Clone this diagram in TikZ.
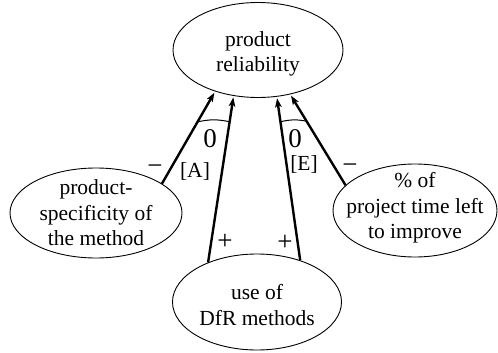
\documentclass[tikz,border=0pt]{standalone}
\usepackage{fontspec}
\setmainfont{Liberation Serif}
\usetikzlibrary{arrows.meta,shapes.geometric}
\begin{document}
\begin{tikzpicture}[x=1pt,y=-1pt,
  ell/.style={draw, ellipse, line width=0.9pt, inner sep=0pt},
  txt/.style={align=center, inner sep=0pt, font=\fontsize{21.5}{25.5}\selectfont},
  arr/.style={line width=2.4pt, -{Stealth[length=9pt,width=6.5pt,inset=2pt]}, shorten >=1.5pt},
  lab/.style={inner sep=0pt, font=\fontsize{21.5}{25.5}\selectfont},
  sym/.style={inner sep=0pt, font=\fontsize{27}{30}\selectfont},
  anglearc/.style={line width=1pt}]
\useasboundingbox (0,0) rectangle (498,353);
% ellipses
\node[ell, minimum width=170pt, minimum height=95pt] (top) at (258,50) {};
\node[ell, minimum width=169pt, minimum height=96pt] (bot) at (257,302) {};
\node[ell, minimum width=172pt, minimum height=90pt] (left) at (96,213) {};
\node[ell, minimum width=164pt, minimum height=93pt] (right) at (415,210.5) {};
% texts
\node[txt] (toptxt) at (258,54) {product\\reliability};
\node[txt] (bottxt) at (257,305) {use of\\DfR methods};
\node[txt] (lefttxt) at (96,213) {product-\\specificity of\\the method};
\node[txt] (righttxt) at (415,208) {\% of\\project time left\\to improve};
% arrows
\draw[arr] (left.24) -- coordinate[pos=0.67] (a1) (top.224.5);
\draw[arr] (bot.141.5) -- coordinate[pos=0.845] (b1) (top.242);
\draw[arr] (bot.44.3) -- coordinate[pos=0.847] (c1) (top.292);
\draw[arr] (right.160.3) -- coordinate[pos=0.705] (d1) (top.306.7);
% angle arcs
\draw[anglearc] (a1) to[bend left=12] (b1);
\draw[anglearc] (c1) to[bend left=12] (d1);
% labels
\node[sym] (m1) at (155,170) {−};
\node[lab] (la) at (195,171) {[A]};
\node[sym] (z1) at (210,139) {0};
\node[sym] (z2) at (295,139) {0};
\node[lab] (le) at (304,164) {[E]};
\node[sym] (m2) at (350,169) {−};
\node[sym] (p1) at (225,242) {+};
\node[sym] (p2) at (285,243) {+};
\end{tikzpicture}
\end{document}
